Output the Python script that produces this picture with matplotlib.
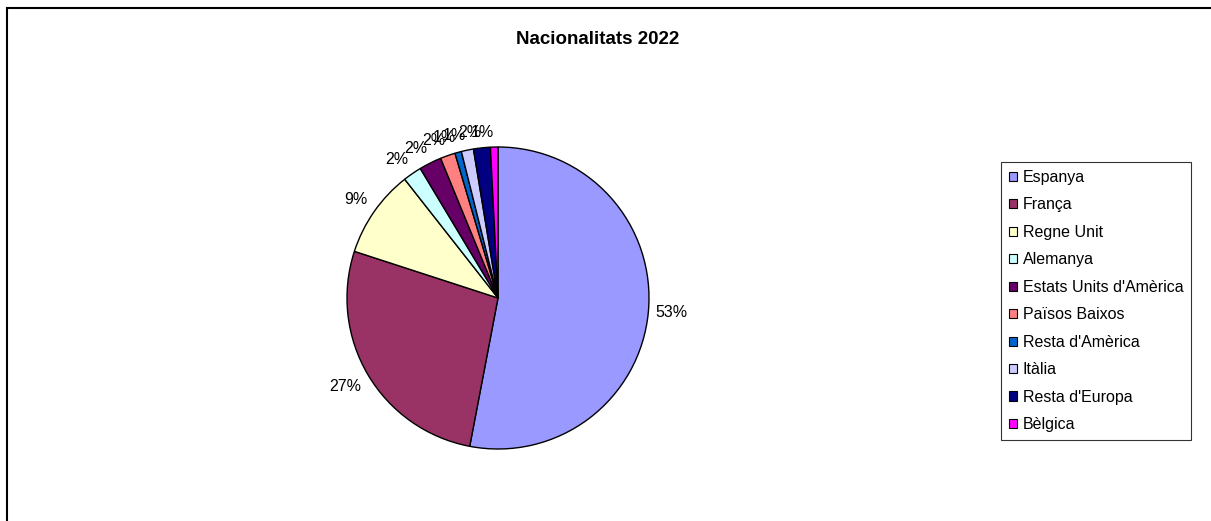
import numpy as np
import matplotlib.pyplot as plt
from matplotlib.patches import Rectangle

plt.rcParams['font.family'] = ['Liberation Sans', 'DejaVu Sans']

# dades
nacionalitats = ['Espanya', 'França', 'Regne Unit', 'Alemanya', "Estats Units d'Amèrica",
                 'Països Baixos', "Resta d'Amèrica", 'Itàlia', "Resta d'Europa", 'Bèlgica']
percentatges = [53.0, 27.0, 9.4, 2.0, 2.4, 1.6, 0.7, 1.3, 1.8, 0.8]
colors = ['#9999FF', '#993366', '#FFFFCC', '#CCFFFF', '#660066',
          '#FF8080', '#0066CC', '#CCCCFF', '#000080', '#FF00FF']

W, H = 1211, 521
fig = plt.figure(figsize=(W / 100, H / 100), dpi=100)

# marc exterior (només es veuen els costats esquerre i superior)
fig.patches.append(Rectangle((7 / W, -0.1), 1.2, 1 - 8 / H + 0.1, transform=fig.transFigure,
                             fill=False, edgecolor='black', linewidth=1.5))

# pastís: centre (498, 298), radi 151 px
cx, cy, r = 498, 298, 151
ax = fig.add_axes([(cx - r) / W, (H - cy - r) / H, 2 * r / W, 2 * r / H])
wedges, _ = ax.pie(percentatges, colors=colors, startangle=90, counterclock=False,
                   radius=1, wedgeprops=dict(edgecolor='black', linewidth=1.0))
ax.set_xlim(-1, 1)
ax.set_ylim(-1, 1)
ax.set_aspect('equal')
ax.axis('off')

# etiquetes de percentatge fora del pastís
for w, p in zip(wedges, percentatges):
    ang = np.deg2rad((w.theta1 + w.theta2) / 2)
    x, y = np.cos(ang), np.sin(ang)
    ha = 'left' if x > 0 else 'right'
    if abs(y) < 0.3:
        va = 'center'
    else:
        va = 'bottom' if y > 0 else 'top'
    ax.text(1.05 * x, 1.05 * y, f'{round(p):d}%', ha=ha, va=va, fontsize=11.5)

fig.text(598 / W, 1 - 40 / H, 'Nacionalitats 2022', ha='center', va='center',
         fontsize=13.5, fontweight='bold')

leg = fig.legend(wedges, nacionalitats, loc='upper left',
                 bbox_to_anchor=(1001 / W, 1 - 162 / H), bbox_transform=fig.transFigure,
                 borderaxespad=0, fontsize=11.5, frameon=True, fancybox=False,
                 edgecolor='black', handlelength=0.5, handleheight=0.5,
                 handletextpad=0.35, labelspacing=0.78, borderpad=0.5)
leg.get_frame().set_linewidth(0.8)
for h in leg.legend_handles:
    h.set_linewidth(0.8)

fig.savefig('out.png', dpi=100)
